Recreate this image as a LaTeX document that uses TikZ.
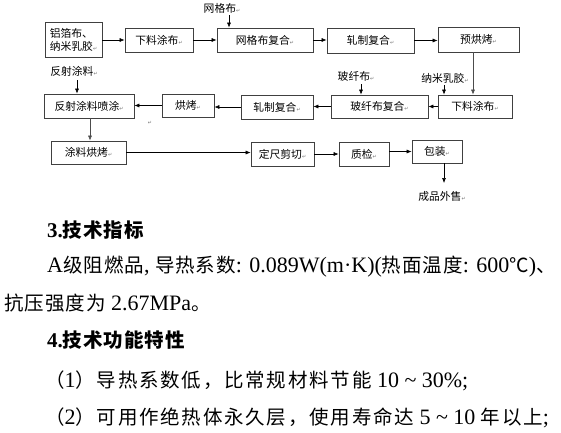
\documentclass[tikz,border=0pt]{standalone}
\usepackage{fontspec}
\setmainfont{Liberation Serif}
\newfontfamily\cjk{Noto Sans CJK SC}
\newfontfamily\cjkls[LetterSpace=5]{Noto Sans CJK SC}
\newfontfamily\cjkwide[LetterSpace=9]{Noto Sans CJK SC}
\newfontfamily\symf{DejaVu Sans}
\usetikzlibrary{arrows.meta}
\newcommand\pmk{{\symf\fontsize{5}{5}\selectfont\color{black!55}↵}}
\newcommand\C[1]{{\cjkls\fontsize{19.5}{24}\selectfont #1}}
\newcommand\CW[1]{{\cjkwide\fontsize{19.5}{24}\selectfont #1}}
\begin{document}
\begin{tikzpicture}[x=1pt,y=-1pt,
  box/.style={draw=black!75, line width=0.7pt, inner sep=0pt, font=\cjk\fontsize{10.8}{13}\selectfont},
  lbl/.style={inner sep=0pt, font=\cjk\fontsize{10.8}{13}\selectfont},
  arr/.style={-{Latex[length=5pt,width=4pt]}, line width=0.6pt},
  ln/.style={line width=0.6pt, black!70},
  body/.style={inner sep=0pt, anchor=west, font=\fontsize{22}{24}\selectfont},
  head/.style={inner sep=0pt, anchor=west, font=\bfseries\fontsize{21}{24}\selectfont}]
\useasboundingbox[fill=white] (0,0) rectangle (561,432);
% ---- row 1
\node[box, minimum width=57, minimum height=35, align=left] (A) at (73.5,39.5) {铝箔布、\\纳米乳胶\pmk};
\node[box, minimum width=68, minimum height=24] (B) at (159,40) {下料涂布\pmk};
\node[box, minimum width=96, minimum height=24] (C) at (265,40) {网格布复合\pmk};
\node[box, minimum width=87, minimum height=25] (D) at (370.5,40.5) {轧制复合\pmk};
\node[box, minimum width=81, minimum height=25] (E) at (478.5,39.5) {预烘烤\pmk};
% ---- row 2
\node[box, minimum width=74, minimum height=23] (F) at (475,106.5) {下料涂布\pmk};
\node[box, minimum width=97, minimum height=23] (G) at (379.5,106.5) {玻纤布复合\pmk};
\node[box, minimum width=72, minimum height=24] (H) at (277,107) {轧制复合\pmk};
\node[box, minimum width=52, minimum height=23] (I) at (188,105.5) {烘烤\pmk};
\node[box, minimum width=90, minimum height=24] (J) at (89,106) {反射涂料喷涂\pmk};
% ---- row 3
\node[box, minimum width=75, minimum height=23] (K) at (88.5,152.5) {涂料烘烤\pmk};
\node[box, minimum width=63, minimum height=24] (L) at (282.5,154) {定尺剪切\pmk};
\node[box, minimum width=50, minimum height=24] (M) at (364,154) {质检\pmk};
\node[box, minimum width=50, minimum height=23] (N) at (437,151.5) {包装\pmk};
% ---- labels
\node[lbl] (wgb) at (222,8) {网格布\pmk};
\node[lbl] (fstl) at (74,71) {反射涂料\pmk};
\node[lbl] (bxb) at (356,76) {玻纤布\pmk};
\node[lbl] (nmrj) at (445,78) {纳米乳胶\pmk};
\node[lbl] (cpws) at (442,196) {成品外售\pmk};
\node[inner sep=0pt, font=\symf\fontsize{5}{5}\selectfont, text=black!55] (pm1) at (150,123) {↵};
\coordinate (wgbA) at (229,15);
\coordinate (fstlA) at (77,80);
\coordinate (bxbA) at (361,84);
\coordinate (nmrjA) at (444,85);
\coordinate (cpwsA) at (444,183);
% ---- connectors
\draw[arr] (A.east |- B.west) -- (B.west);
\draw[arr] (B.east) -- (C.west);
\draw[arr] (C.east) -- (C.east -| D.west);
\draw[arr] (D.east) -- (D.east -| E.west);
\draw[arr] (wgbA) -- (wgbA |- C.north);
\draw[ln, arr] ([xshift=-5.5]E.south) -- ([xshift=-5.5]E.south |- F.north);
\draw[arr] (nmrjA) -- (nmrjA |- F.north);
\draw[arr] (bxbA) -- (bxbA |- G.north);
\draw[arr] (F.west) -- (F.west -| G.east);
\draw[arr] (G.west) -- (G.west -| H.east);
\draw[arr] (H.west) -- (H.west -| I.east);
\draw[arr] (I.west) -- (I.west -| J.east);
\draw[arr] (fstlA) -- (fstlA |- J.north);
\draw[ln, arr] ([xshift=1]J.south) -- ([xshift=1]J.south |- K.north);
\draw[arr] (K.east) -- (K.east -| L.west);
\draw[arr] (L.east) -- (L.east -| M.west);
\draw[arr] (M.east |- N.west) -- (N.west);
\draw[arr] (cpwsA |- N.south) -- (cpwsA);
% ---- text
\node[head] (h3) at (47,230) {3.\C{技术指标}};
\node[body] (t1) at (47,267) {A\C{级阻燃品}, \C{导热系数}: 0.089W(m·K)(\C{热面温度}: 600\C{℃})\C{、}};
\node[body] (t2) at (4,303) {\C{抗压强度为} 2.67MPa\C{。}};
\node[head] (h4) at (47,340) {4.\C{技术功能特性}};
\node[body] (t3) at (45,381) {\CW{（}1\CW{）导热系数低，比常规材料节能} 10 \textasciitilde\ 30\%;};
\node[body] (t4) at (45,418) {\CW{（}2\CW{）可用作绝热体永久层，使用寿命达} 5 \textasciitilde\ 10 \CW{年以上};};
\end{tikzpicture}
\end{document}
